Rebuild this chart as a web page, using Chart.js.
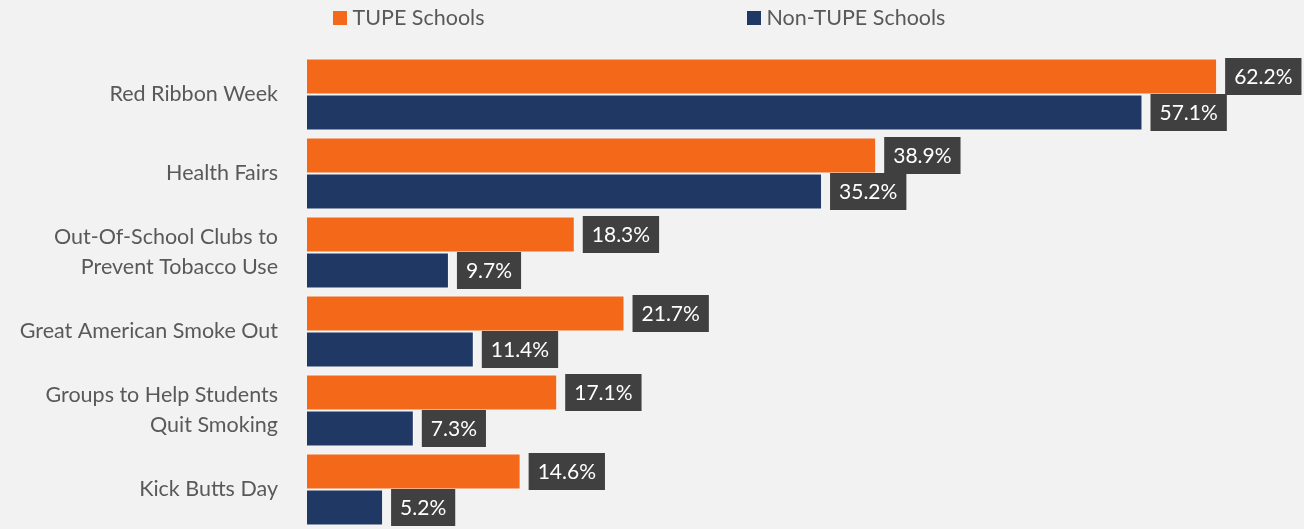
<!DOCTYPE html>
<html>
<head>
<meta charset="utf-8">
<script src="https://cdn.jsdelivr.net/npm/chart.js@4"></script>
<style>
    html, body { margin: 0; padding: 0; background: #f2f2f2; overflow: hidden; }
    canvas { display: block; }
</style>
</head>
<body>
<canvas id="chart" width="1304" height="529"></canvas>
<script>
const categories = [
    'Red Ribbon Week',
    'Health Fairs',
    ['Out-Of-School Clubs to', 'Prevent Tobacco Use'],
    'Great American Smoke Out',
    ['Groups to Help Students', 'Quit Smoking'],
    'Kick Butts Day'
];
const series_names = ['TUPE Schools', 'Non-TUPE Schools'];
const tupe_values = [62.2, 38.9, 18.3, 21.7, 17.1, 14.6];
const non_tupe_values = [57.1, 35.2, 9.7, 11.4, 7.3, 5.2];
const colors = ['#f4681a', '#203864'];

const font_family = 'Lato, "Open Sans", sans-serif';

// value boxes drawn next to each bar
const valueBoxes = {
    id: 'valueBoxes',
    afterDatasetsDraw(chart) {
        const ctx = chart.ctx;
        ctx.save();
        ctx.font = '21px ' + font_family;
        ctx.textAlign = 'center';
        ctx.textBaseline = 'middle';
        chart.data.datasets.forEach((ds, i) => {
            const meta = chart.getDatasetMeta(i);
            meta.data.forEach((bar, j) => {
                const txt = ds.data[j].toFixed(1) + '%';
                const w = ctx.measureText(txt).width + 18;
                const h = bar.height + 1;
                const x0 = bar.x + 8;
                ctx.fillStyle = '#404040';
                ctx.fillRect(x0, bar.y - h / 2, w, h);
                ctx.fillStyle = '#ffffff';
                ctx.fillText(txt, x0 + w / 2, bar.y + 1);
            });
        });
        ctx.restore();
    }
};

// legend at top, positioned like the original
const topLegend = {
    id: 'topLegend',
    afterDraw(chart) {
        const ctx = chart.ctx;
        const spots = [333, 747];
        ctx.save();
        ctx.textBaseline = 'middle';
        ctx.font = '21.5px ' + font_family;
        chart.data.datasets.forEach((ds, i) => {
            ctx.fillStyle = ds.backgroundColor;
            ctx.fillRect(spots[i], 11, 14, 14);
            ctx.fillStyle = '#595959';
            ctx.fillText(ds.label, spots[i] + 19.5, 18);
        });
        ctx.restore();
    }
};

const canv = document.getElementById('chart').getContext('2d');
const graph = new Chart(canv, {
    type: 'bar',
    data: {
        labels: categories,
        datasets: [{
            label: series_names[0],
            data: tupe_values,
            backgroundColor: colors[0],
            borderColor: 'rgba(255, 255, 255, 0.6)',
            borderWidth: 1,
            categoryPercentage: 72 / 79,
            barPercentage: 1
        }, {
            label: series_names[1],
            data: non_tupe_values,
            backgroundColor: colors[1],
            borderColor: 'rgba(255, 255, 255, 0.6)',
            borderWidth: 1,
            categoryPercentage: 72 / 79,
            barPercentage: 1
        }]
    },
    options: {
        indexAxis: 'y',
        responsive: false,
        animation: false,
        layout: {
            padding: { top: 55, right: 2, bottom: 0, left: 0 }
        },
        plugins: {
            legend: { display: false },
            tooltip: { enabled: false }
        },
        scales: {
            x: {
                display: false,
                min: 0,
                max: 68
            },
            y: {
                grid: { display: false },
                border: { display: false },
                afterFit: (scale) => {
                    scale.width = 307;
                    scale.paddingTop = 0;
                    scale.paddingBottom = 0;
                },
                ticks: {
                    padding: 21,
                    color: '#595959',
                    font: { family: font_family, size: 21.5, lineHeight: 1.4 }
                }
            }
        }
    },
    plugins: [valueBoxes, topLegend]
});
</script>
</body>
</html>
